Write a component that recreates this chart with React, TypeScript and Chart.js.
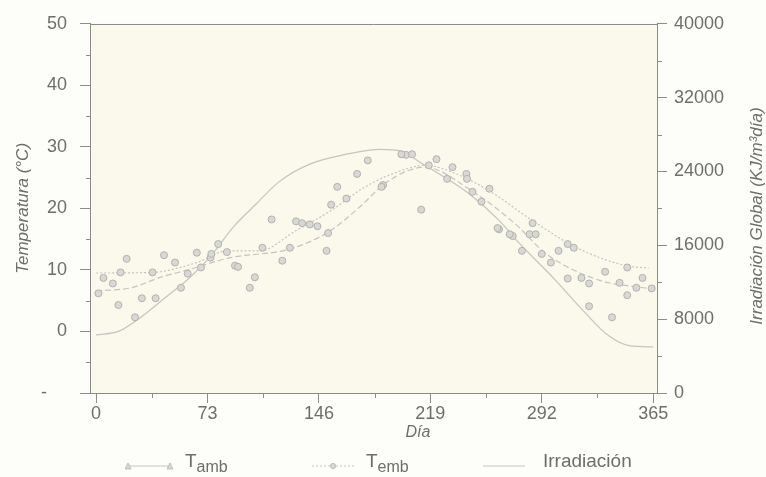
import React, { useEffect, useRef } from "react";
import { Chart, registerables } from "chart.js";

Chart.register(...registerables);

// Axis ticks
const dayTicks = [0, 73, 146, 219, 292, 365];
const dayMinorTicks = [36.5, 109.5, 182.5, 255.5, 328.5];
const tempTicks = [-10, 0, 10, 20, 30, 40, 50];
const tempTickLabels = ["-\u2007\u2007", "0", "10", "20", "30", "40", "50"];
const tempMinorTicks = [-5, 5, 15, 25, 35, 45];
const irrTicks = [0, 8000, 16000, 24000, 32000, 40000];
const irrMinorTicks = [4000, 12000, 20000, 28000, 36000];

// Measured ambient temperature (°C) by day of year
const ambDays = [1.5, 11, 14.6, 25.5, 30, 39, 55.6, 68.7, 91, 93, 100.7, 104, 115, 122, 151, 154, 164, 178, 187, 200, 207, 213, 223, 233.5, 246.6, 252.5, 263, 271, 279, 298, 309, 318, 323, 323, 338, 348, 354];
const ambTemps = [6.2, 7.8, 4.3, 2.3, 5.4, 5.4, 7.1, 10.4, 10.7, 10.5, 7.1, 8.8, 18.2, 11.5, 13.1, 20.6, 21.6, 27.8, 23.5, 28.8, 28.8, 19.8, 28, 26.7, 22.7, 21.1, 16.8, 15.8, 13.1, 11.2, 8.6, 8.7, 7.8, 4.1, 2.3, 5.9, 7.1];

// Measured reservoir temperature (°C) by day of year
const embDays = [4.8, 16, 20, 37, 44.5, 51.7, 60, 66, 75, 75.5, 80, 85.7, 109, 127, 131, 135, 140, 145, 152, 158, 171, 188, 203, 218, 230, 242.6, 243, 257.7, 264, 273, 284, 286, 288, 292, 303, 309, 313, 333.5, 343, 348, 358, 364];
const embTemps = [8.7, 9.6, 11.8, 9.6, 12.4, 11.2, 9.4, 12.8, 12, 12.6, 14.2, 12.9, 13.6, 13.6, 17.9, 17.6, 17.4, 17.1, 16, 23.5, 25.6, 23.8, 28.7, 27, 24.8, 25.6, 24.8, 23.2, 16.6, 15.5, 15.8, 17.6, 15.8, 12.6, 13.1, 14.2, 13.6, 9.7, 7.9, 10.4, 8.7, 7];

// Fitted seasonal curves
const ambFitDays = [0, 23, 42, 60, 88, 127, 153, 173, 189, 205, 215, 247, 275, 295, 330, 362];
const ambFitTemps = [6.6, 7.1, 8.8, 10, 12, 13.4, 16.3, 20.3, 24, 26.2, 26.7, 22.7, 17.4, 12.6, 8.3, 7];
const embFitDays = [0, 37, 66, 86, 107, 131, 153, 175, 192, 216, 237, 258, 286, 315, 347, 362];
const embFitTemps = [9.5, 9.6, 11.2, 13.1, 13.1, 16.4, 19.5, 23.3, 25.4, 27, 25.5, 22.8, 18, 13.6, 10.7, 10.3];

// Global irradiation (KJ/m3 día)
const irrDays = [0, 15, 30, 45, 60, 75, 90, 105, 120, 140, 165, 186, 200, 214, 230, 245, 264, 278, 300, 319, 335, 350, 365];
const irrValues = [6300, 6700, 8300, 10300, 12300, 14800, 18000, 20500, 22900, 24800, 25900, 26400, 26200, 24800, 23200, 21500, 18700, 16100, 12400, 8950, 6300, 5100, 5000];

const FONT = "'Liberation Sans', Arial, sans-serif";
const TEXT = "#6e6e6a";
const AXIS = "#8c8c88";
const CURVE = "#c4c4c0";
const MARK_FILL = "#d8d8d4";
const MARK_EDGE = "#b2b2ae";
const PAGE_BG = "#fdfdf9";
const PLOT_BG = "#fbf9ec";

const pts = (xs: number[], ys: number[]) => xs.map((x, i) => ({ x, y: ys[i] }));

const frame = {
  id: "frame",
  beforeDraw(chart: any) {
    const { ctx, chartArea: a } = chart;
    ctx.save();
    ctx.fillStyle = PLOT_BG;
    ctx.fillRect(a.left, a.top, a.right - a.left, a.bottom - a.top);
    ctx.restore();
  },
  afterDraw(chart: any) {
    const { ctx, chartArea: a, scales } = chart;
    ctx.save();
    ctx.strokeStyle = AXIS;
    ctx.lineWidth = 1;
    const yt = Math.round(a.top) + 0.5;
    ctx.beginPath();
    ctx.moveTo(a.left, yt);
    ctx.lineTo(a.right, yt);
    ctx.stroke();

    ctx.beginPath();
    tempMinorTicks.forEach((v) => {
      const y = Math.round(scales.y.getPixelForValue(v)) + 0.5;
      ctx.moveTo(a.left - 4, y);
      ctx.lineTo(a.left, y);
    });
    irrMinorTicks.forEach((v) => {
      const y = Math.round(scales.y1.getPixelForValue(v)) + 0.5;
      ctx.moveTo(a.right, y);
      ctx.lineTo(a.right + 5, y);
    });
    dayMinorTicks.forEach((v) => {
      const x = Math.round(scales.x.getPixelForValue(v)) + 0.5;
      ctx.moveTo(x, a.bottom);
      ctx.lineTo(x, a.bottom + 5);
    });
    ctx.stroke();

    ctx.fillStyle = TEXT;
    ctx.textAlign = "center";
    ctx.textBaseline = "middle";
    ctx.font = `italic 16px ${FONT}`;
    ctx.fillText("Día", 418, 433);

    ctx.translate(757, 216);
    ctx.rotate(-Math.PI / 2);
    ctx.font = `italic 17px ${FONT}`;
    ctx.fillText("Irradiación Global (KJ/m³día)", 0, 0);
    ctx.restore();
  },
};

function LegendLine({ dash, marker }: { dash?: string; marker?: "tri" | "dot" }) {
  return (
    <svg width="48" height="12" style={{ display: "block" }}>
      <line x1="3" y1="6" x2="45" y2="6" stroke={CURVE} strokeWidth="1.2" strokeDasharray={dash} />
      {marker === "tri" && (
        <>
          <polygon points="0,9 6,9 3,3" fill={MARK_FILL} stroke={MARK_EDGE} strokeWidth="0.8" />
          <polygon points="42,9 48,9 45,3" fill={MARK_FILL} stroke={MARK_EDGE} strokeWidth="0.8" />
        </>
      )}
      {marker === "dot" && <circle cx="24" cy="6" r="2.6" fill={MARK_FILL} stroke={MARK_EDGE} strokeWidth="0.8" />}
    </svg>
  );
}

export default function App() {
  const ref = useRef<HTMLCanvasElement | null>(null);

  useEffect(() => {
    if (!ref.current) return;
    const axisGrid = {
      drawOnChartArea: false,
      drawTicks: true,
      tickLength: 10,
      color: AXIS,
      tickColor: AXIS,
      lineWidth: 1,
    };
    const tickFont = { family: FONT, size: 18 };
    const markStyle = {
      yAxisID: "y",
      pointStyle: "circle",
      pointRadius: 3.5,
      pointBackgroundColor: MARK_FILL,
      pointBorderColor: MARK_EDGE,
      pointBorderWidth: 1,
    };
    const curveStyle = {
      showLine: true,
      pointRadius: 0,
      borderColor: CURVE,
      borderWidth: 1.2,
      cubicInterpolationMode: "monotone",
    };
    const chart = new Chart(ref.current, {
      type: "scatter",
      data: {
        datasets: [
          { label: "Tamb", data: pts(ambDays, ambTemps), ...markStyle },
          { label: "Temb", data: pts(embDays, embTemps), ...markStyle },
          { label: "Tamb ajuste", data: pts(ambFitDays, ambFitTemps), yAxisID: "y", borderDash: [6, 3], ...curveStyle },
          { label: "Temb ajuste", data: pts(embFitDays, embFitTemps), yAxisID: "y", borderDash: [2, 2], ...curveStyle },
          { label: "Irradiación", data: pts(irrDays, irrValues), yAxisID: "y1", ...curveStyle },
        ],
      } as any,
      options: {
        responsive: false,
        animation: false,
        events: [],
        layout: { padding: { top: 20, bottom: 34, left: 0, right: 0 } },
        plugins: { legend: { display: false }, tooltip: { enabled: false } },
        scales: {
          x: {
            type: "linear",
            min: -4,
            max: 367.5,
            afterBuildTicks: (s: any) => {
              s.ticks = dayTicks.map((value) => ({ value }));
            },
            afterFit: (s: any) => {
              s.height = 50;
            },
            grid: axisGrid,
            border: { color: AXIS, width: 1 },
            ticks: { color: TEXT, font: tickFont, padding: 0, maxRotation: 0, autoSkip: false, callback: (v: any) => String(v) },
          },
          y: {
            position: "left",
            min: -10,
            max: 50,
            afterBuildTicks: (s: any) => {
              s.ticks = tempTicks.map((value) => ({ value }));
            },
            afterFit: (s: any) => {
              s.width = 90;
            },
            grid: axisGrid,
            border: { color: AXIS, width: 1 },
            ticks: {
              color: TEXT,
              font: tickFont,
              padding: 13,
              autoSkip: false,
              callback: (v: any) => tempTickLabels[tempTicks.indexOf(Number(v))] ?? "",
            },
            title: {
              display: true,
              text: "Temperatura (°C)",
              color: TEXT,
              font: { family: FONT, size: 17, style: "italic" },
              padding: { top: 13, bottom: 0 },
            },
          },
          y1: {
            position: "right",
            min: 0,
            max: 40000,
            afterBuildTicks: (s: any) => {
              s.ticks = irrTicks.map((value) => ({ value }));
            },
            afterFit: (s: any) => {
              s.width = 109;
            },
            grid: axisGrid,
            border: { color: AXIS, width: 1 },
            ticks: { color: TEXT, font: tickFont, padding: 7, autoSkip: false, callback: (v: any) => String(v) },
          },
        },
      } as any,
      plugins: [frame],
    });
    return () => chart.destroy();
  }, []);

  const legendText: React.CSSProperties = {
    position: "absolute",
    top: 450,
    fontFamily: FONT,
    fontSize: 19,
    lineHeight: "22px",
    color: TEXT,
    whiteSpace: "nowrap",
  };
  const sub: React.CSSProperties = { fontSize: 16, position: "relative", top: 5 };

  return (
    <div style={{ position: "fixed", left: 0, top: 0, width: 766, height: 477, background: PAGE_BG, overflow: "hidden" }}>
      <canvas ref={ref} width={766} height={477} style={{ position: "absolute", left: 0, top: 0 }} />
      <div style={{ position: "absolute", left: 125, top: 460 }}>
        <LegendLine marker="tri" />
      </div>
      <div style={{ ...legendText, left: 185 }}>
        T<span style={sub}>amb</span>
      </div>
      <div style={{ position: "absolute", left: 309, top: 460 }}>
        <LegendLine dash="2 2" marker="dot" />
      </div>
      <div style={{ ...legendText, left: 366 }}>
        T<span style={sub}>emb</span>
      </div>
      <div style={{ position: "absolute", left: 480, top: 460 }}>
        <LegendLine />
      </div>
      <div style={{ ...legendText, left: 543 }}>Irradiación</div>
    </div>
  );
}
